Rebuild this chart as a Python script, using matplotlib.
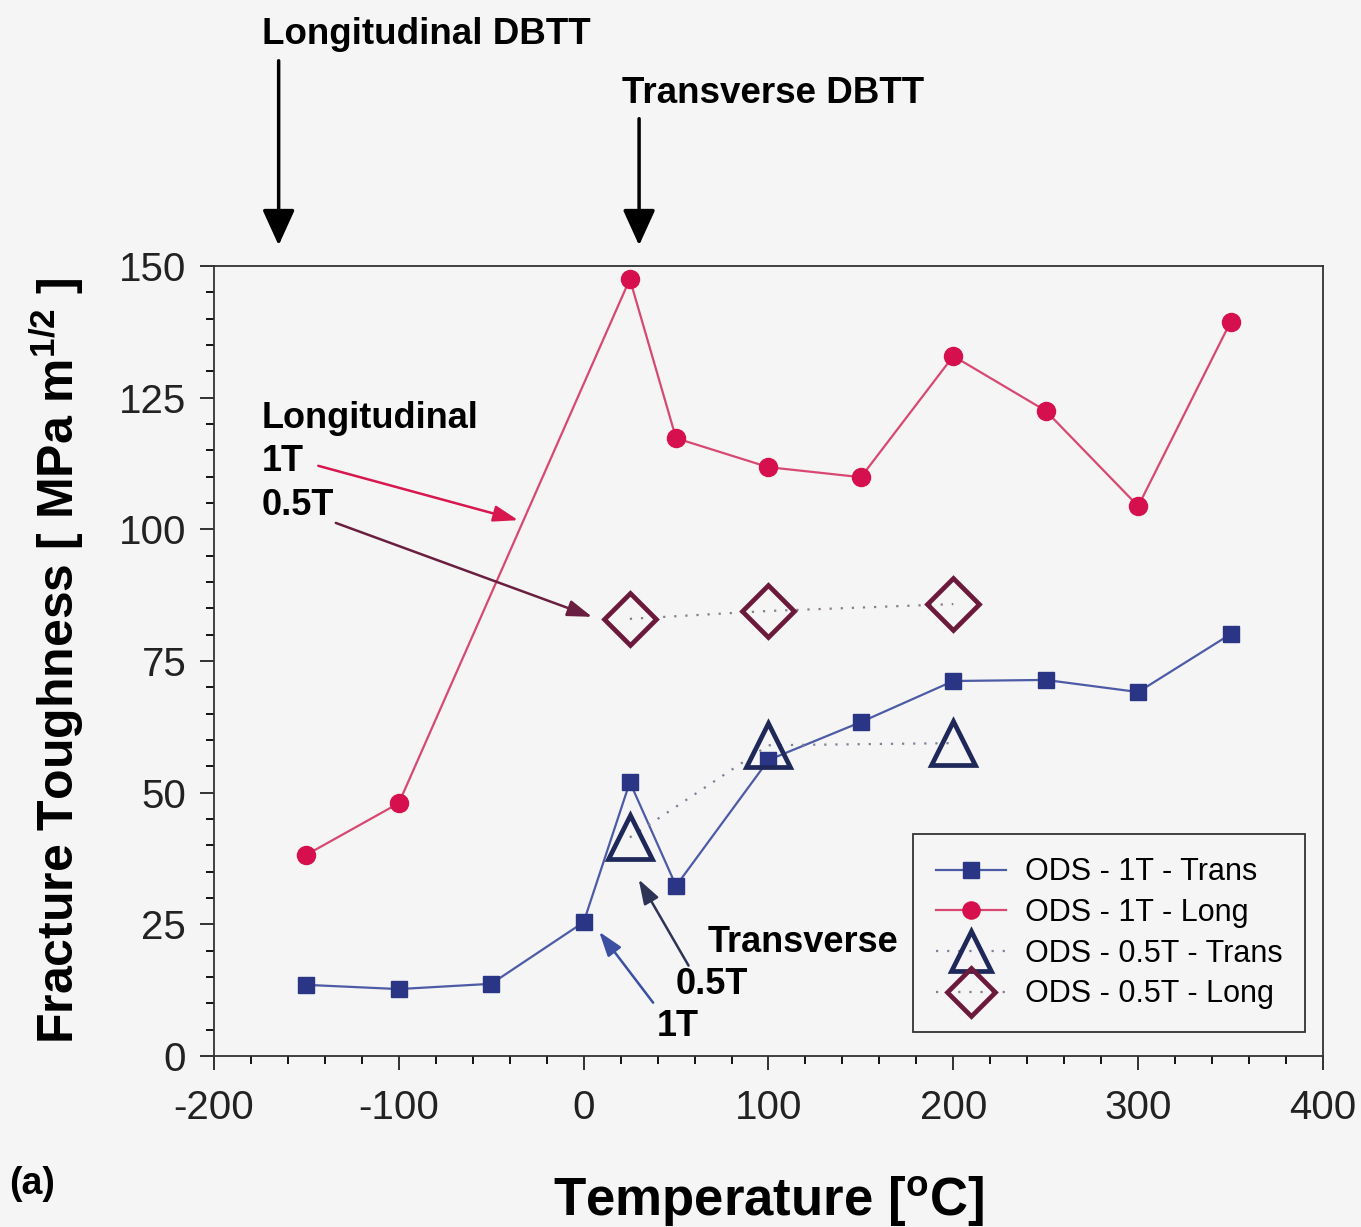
import matplotlib
matplotlib.use("Agg")
import matplotlib.pyplot as plt
from matplotlib.ticker import MultipleLocator

plt.rcParams['font.family'] = ['Liberation Sans', 'DejaVu Sans']
plt.rcParams['axes.unicode_minus'] = False

# data
temp_1t = [-150, -100, -50, 0, 25, 50, 100, 150, 200, 250, 300, 350]
kq_1t_trans = [13.5, 12.7, 13.7, 25.4, 52.0, 32.3, 56.2, 63.4, 71.2, 71.4, 69.1, 80.1]

temp_1t_long = [-150, -100, 25, 50, 100, 150, 200, 250, 300, 350]
kq_1t_long = [38.2, 48.0, 147.5, 117.3, 111.8, 109.9, 132.9, 122.5, 104.4, 139.4]

temp_05t = [25, 100, 200]
kq_05t_trans = [41.5, 59.0, 59.4]
kq_05t_long = [83.0, 84.5, 85.8]

bg = '#f4f5f4'
fig = plt.figure(figsize=(13.61, 12.27), dpi=100, facecolor=bg)
ax = fig.add_axes([0.1572, 0.1394, 0.8149, 0.6438], facecolor=bg)

ax.plot(temp_1t, kq_1t_trans, '-s', color='#4d5ba6', mfc='#2b3585', mec='#2b3585',
        ms=11.5, lw=1.6, label='ODS - 1T - Trans', zorder=3)
ax.plot(temp_1t_long, kq_1t_long, '-o', color='#d84873', mfc='#d6104e', mec='#d6104e',
        ms=13, lw=1.6, label='ODS - 1T - Long', zorder=3)
ax.plot(temp_05t, kq_05t_trans, '^', ls=(0, (1, 4)), color='#7d8298', mfc='none',
        mec='#1e2859', mew=3.4, ms=31, lw=1.6, label='ODS - 0.5T - Trans', zorder=4)
ax.plot(temp_05t, kq_05t_long, 'D', ls=(0, (1, 4)), color='#8a7d86', mfc='none',
        mec='#6c1a3c', mew=3.4, ms=26, lw=1.6, label='ODS - 0.5T - Long', zorder=4)

ax.set_xlim(-200, 400)
ax.set_ylim(0, 150)
ax.xaxis.set_major_locator(MultipleLocator(100))
ax.xaxis.set_minor_locator(MultipleLocator(20))
ax.yaxis.set_major_locator(MultipleLocator(25))
ax.yaxis.set_minor_locator(MultipleLocator(5))
ax.tick_params(which='major', direction='out', length=10, width=1.3, labelsize=29,
               colors='#222222', pad=14)
ax.tick_params(which='minor', direction='out', length=6, width=1.3)
ax.tick_params(axis='y', pad=10)
for s in ax.spines.values():
    s.set_linewidth(1.3)
    s.set_color('#333333')

ax.set_xlabel('Temperature [$\\mathregular{^oC}$]', fontsize=38, fontweight='bold', labelpad=34)
ax.set_ylabel('Fracture Toughness [ MPa m$\\mathregular{^{1/2}}$ ]', fontsize=36,
              fontweight='bold', labelpad=23)

fig.text(0.007, 0.035, '(a)', fontsize=27, fontweight='bold', ha='left', va='center')

# DBTT arrows above the plot
arrow_kw = dict(arrowstyle='-|>,head_length=1.1,head_width=0.5', color='black', lw=2.5,
                mutation_scale=20)
ax.annotate('', xy=(-165, 153.4), xytext=(-165, 189.5), arrowprops=arrow_kw,
            annotation_clip=False)
ax.text(-174, 194, 'Longitudinal DBTT', fontsize=26.5, fontweight='bold', ha='left', va='center')
ax.annotate('', xy=(30, 153.4), xytext=(30, 178.5), arrowprops=arrow_kw,
            annotation_clip=False)
ax.text(20.5, 182.8, 'Transverse DBTT', fontsize=26.5, fontweight='bold', ha='left', va='center')

# labels inside the plot
small_head = '-|>,head_length=1.5,head_width=0.5'
ax.text(-174, 121.1, 'Longitudinal', fontsize=26, fontweight='bold', va='center')
ax.text(-174, 112.8, '1T', fontsize=26, fontweight='bold', va='center')
ax.text(-174, 104.6, '0.5T', fontsize=26, fontweight='bold', va='center')
ax.annotate('', xy=(-34, 101.6), xytext=(-145, 112.2),
            arrowprops=dict(arrowstyle=small_head, color='#d8174f', lw=1.8))
ax.annotate('', xy=(6, 83.2), xytext=(-135.5, 101.4),
            arrowprops=dict(arrowstyle=small_head, color='#6a1f40', lw=1.8))

ax.text(67, 21.6, 'Transverse', fontsize=26, fontweight='bold', va='center')
ax.text(50, 13.5, '0.5T', fontsize=26, fontweight='bold', va='center')
ax.text(39.5, 5.5, '1T', fontsize=26, fontweight='bold', va='center')
ax.annotate('', xy=(29, 34), xytext=(57.5, 16.7),
            arrowprops=dict(arrowstyle=small_head, color='#2e3455', lw=1.8))
ax.annotate('', xy=(7.5, 24), xytext=(38.5, 9.7),
            arrowprops=dict(arrowstyle=small_head, color='#3b4fa3', lw=1.8))

leg = ax.legend(loc='lower right', bbox_to_anchor=(0.984, 0.03), fontsize=22,
                frameon=True, fancybox=False, edgecolor='#333333', facecolor=bg,
                framealpha=1, borderpad=0.75, labelspacing=0.35, handlelength=2.3,
                handletextpad=0.6, borderaxespad=0, markerscale=0.95)
leg.get_frame().set_linewidth(1.3)

fig.savefig('out.png', dpi=100, facecolor=bg)
